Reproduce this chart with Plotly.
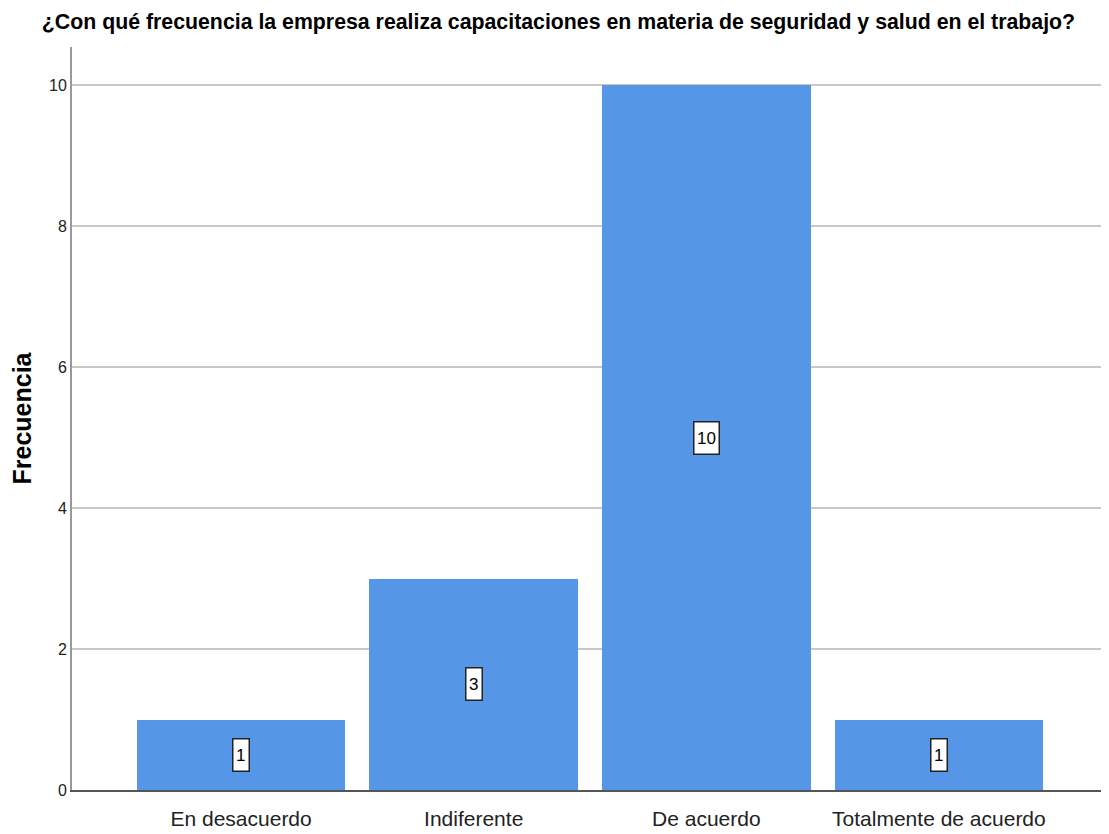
import plotly.graph_objects as go

categorias = ["En desacuerdo", "Indiferente", "De acuerdo", "Totalmente de acuerdo"]
frecuencias = [1, 3, 10, 1]
ticks_y = [0, 2, 4, 6, 8, 10]

titulo = "¿Con qué frecuencia la empresa realiza capacitaciones en materia de seguridad y salud en el trabajo?"
fuente = "Liberation Sans, Arial, sans-serif"

fig = go.Figure()

fig.add_trace(
    go.Bar(
        x=list(range(len(categorias))),
        y=frecuencias,
        width=0.897,
        marker=dict(color="#5596E6", line=dict(width=0)),
        hoverinfo="skip",
        showlegend=False,
    )
)

# etiquetas en recuadro blanco, a media altura de cada barra
for i, v in enumerate(frecuencias):
    fig.add_annotation(
        x=i,
        y=v / 2,
        text=str(v),
        showarrow=False,
        font=dict(family=fuente, size=17, color="black"),
        bgcolor="white",
        bordercolor="#222",
        borderwidth=1.5,
        borderpad=1,
        width=3 + 9.5 * len(str(v)),
        height=29,
    )

# la página añade 8 px de margen, así que el lienzo se reduce un poco
fig.update_layout(
    width=1101,
    height=826,
    margin=dict(l=64, r=1, t=39, b=44),
    plot_bgcolor="white",
    paper_bgcolor="white",
    bargap=0,
    title=dict(
        text="<b>" + titulo + "</b>",
        x=0.5,
        xanchor="center",
        y=0.983,
        yanchor="middle",
        font=dict(family=fuente, size=21.3, color="black"),
    ),
    xaxis=dict(
        range=[-0.727, 3.727],
        tickvals=list(range(len(categorias))),
        ticktext=categorias,
        tickfont=dict(family=fuente, size=21, color="#222"),
        ticklabelstandoff=9,
        showgrid=False,
        showline=True,
        linecolor="#555",
        linewidth=1.5,
        ticks="",
        zeroline=False,
    ),
    yaxis=dict(
        range=[0, 10.54],
        tickvals=ticks_y,
        tickfont=dict(family=fuente, size=16, color="#222"),
        showgrid=True,
        gridcolor="#c8c8c8",
        gridwidth=2,
        showline=True,
        linecolor="#999",
        linewidth=2,
        ticks="",
        zeroline=False,
        title=dict(
            text="<b>Frecuencia</b>",
            font=dict(family=fuente, size=25, color="black"),
            standoff=22,
        ),
    ),
)

fig.write_html("out.html")
